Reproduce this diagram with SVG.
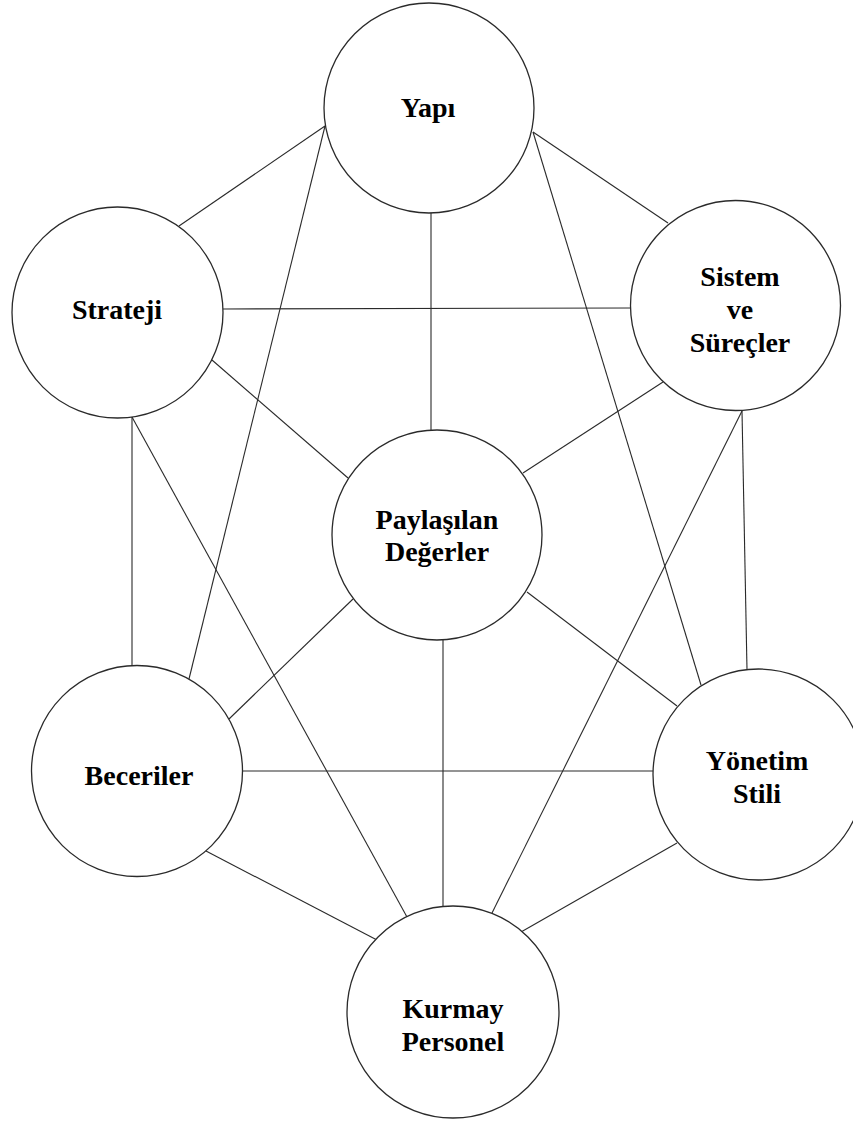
<svg xmlns="http://www.w3.org/2000/svg" width="853" height="1121" viewBox="0 0 853 1121">
  <style>
    .link { stroke: #2a2a2a; stroke-width: 1.1; fill: none; }
    .node circle { fill: #ffffff; stroke: #2a2a2a; stroke-width: 1.3; }
    .node text { font-family: "Liberation Serif", "Times New Roman", serif; font-weight: bold; font-size: 28px; fill: #000000; text-anchor: middle; }
  </style>
  <rect x="0" y="0" width="853" height="1121" fill="#ffffff"/>

  <!-- connectors between the seven elements -->
  <g id="connectors">
    <line class="link" x1="325" y1="126" x2="179" y2="226"/>
    <line class="link" x1="533" y1="132" x2="668" y2="223"/>
    <line class="link" x1="431" y1="213" x2="431" y2="430"/>
    <line class="link" x1="325" y1="126" x2="189" y2="679"/>
    <line class="link" x1="533" y1="132" x2="701" y2="685"/>
    <line class="link" x1="223" y1="309" x2="631" y2="308"/>
    <line class="link" x1="212" y1="360" x2="348" y2="478"/>
    <line class="link" x1="132" y1="417" x2="132" y2="665"/>
    <line class="link" x1="132" y1="417" x2="407" y2="917"/>
    <line class="link" x1="663" y1="382" x2="523" y2="473"/>
    <line class="link" x1="742" y1="411" x2="747" y2="670"/>
    <line class="link" x1="742" y1="411" x2="492" y2="913"/>
    <line class="link" x1="353" y1="599" x2="229" y2="719"/>
    <line class="link" x1="527" y1="592" x2="677" y2="706"/>
    <line class="link" x1="443" y1="640" x2="443" y2="907"/>
    <line class="link" x1="242" y1="771" x2="653" y2="771"/>
    <line class="link" x1="206" y1="851" x2="377" y2="940"/>
    <line class="link" x1="677" y1="843" x2="521" y2="932"/>
  </g>

  <g id="yapi" class="node">
    <circle cx="429" cy="108" r="105"/>
    <text x="428" y="117">Yapı</text>
  </g>

  <g id="strateji" class="node">
    <circle cx="117.5" cy="312.5" r="105.5"/>
    <text x="117" y="319">Strateji</text>
  </g>

  <g id="sistem-surecler" class="node">
    <circle cx="735.5" cy="305.5" r="105"/>
    <text x="740" y="286">Sistem</text>
    <text x="740" y="319">ve</text>
    <text x="740" y="352">Süreçler</text>
  </g>

  <g id="paylasilan-degerler" class="node">
    <circle cx="437" cy="535" r="105"/>
    <text x="437" y="529">Paylaşılan</text>
    <text x="437" y="561">Değerler</text>
  </g>

  <g id="beceriler" class="node">
    <circle cx="137" cy="771" r="105.5"/>
    <text x="139" y="785">Beceriler</text>
  </g>

  <g id="yonetim-stili" class="node">
    <circle cx="758.5" cy="774.5" r="105.5"/>
    <text x="757" y="770">Yönetim</text>
    <text x="757" y="803">Stili</text>
  </g>

  <g id="kurmay-personel" class="node">
    <circle cx="453" cy="1012" r="106"/>
    <text x="453" y="1018">Kurmay</text>
    <text x="453" y="1051">Personel</text>
  </g>
</svg>
